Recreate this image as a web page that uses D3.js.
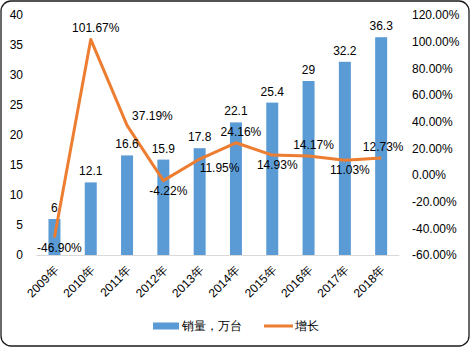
<!DOCTYPE html>
<html><head><meta charset="utf-8">
<script src="https://cdn.jsdelivr.net/npm/d3@7/dist/d3.min.js"></script>
<style>
html,body{margin:0;padding:0;background:#fff;}
text{font-family:"Liberation Sans",Arial,sans-serif;}
</style></head>
<body><svg id="c" width="470" height="347"></svg>
<script>
const years = ["2009年","2010年","2011年","2012年","2013年","2014年","2015年","2016年","2017年","2018年"];
const sales = [6, 12.1, 16.6, 15.9, 17.8, 22.1, 25.4, 29, 32.2, 36.3];
const growth = [-46.90, 101.67, 37.19, -4.22, 11.95, 24.16, 14.93, 14.17, 11.03, 12.73];
const leftTicks = [0,5,10,15,20,25,30,35,40];
const rightTicks = [-60,-40,-20,0,20,40,60,80,100,120];
const growthLabelPlace = ["b","a","r","b","rb","a","b","a","b","a2"];
const seriesNames = ["销量，万台","增长"];

const svg = d3.select("#c");
const blue = "#5B9BD5", orange = "#ED7D31";
svg.append("rect").attr("x",1).attr("y",1).attr("width",468).attr("height",345)
  .attr("rx",10).attr("fill","#fff").attr("stroke","#1a1a1a").attr("stroke-width",1.3);

const x = d3.scaleBand().domain(years).range([36.3,399.3]).paddingInner(0.67).paddingOuter(0.335);
const yL = d3.scaleLinear().domain([0,40]).range([255,15]);
const yR = d3.scaleLinear().domain([-60,120]).range([255,15]);
const cx = d => x(d) + x.bandwidth()/2;

// bars
svg.append("g").selectAll("rect").data(years).join("rect")
  .attr("x",(d)=>x(d)).attr("width",x.bandwidth())
  .attr("y",(d,i)=>yL(sales[i])).attr("height",(d,i)=>yL(0)-yL(sales[i]))
  .attr("fill",blue);

// axis baseline
svg.append("line").attr("x1",36.3).attr("x2",399.3).attr("y1",255.5).attr("y2",255.5)
  .attr("stroke","#d9d9d9").attr("stroke-width",1);

// left axis
const la = svg.append("g").attr("transform","translate(36,0)")
  .call(d3.axisLeft(yL).tickValues(leftTicks).tickSize(0).tickPadding(13).tickFormat(d3.format("d")));
la.select(".domain").remove();
la.selectAll("text").attr("font-size",12).attr("fill","#000").attr("font-family","Liberation Sans, Arial");

// right axis
const ra = svg.append("g").attr("transform","translate(400,0)")
  .call(d3.axisRight(yR).tickValues(rightTicks).tickSize(0).tickPadding(12).tickFormat(d=>d.toFixed(2)+"%"));
ra.select(".domain").remove();
ra.selectAll("text").attr("font-size",12).attr("fill","#000").attr("font-family","Liberation Sans, Arial");

// x axis labels
svg.append("g").selectAll("text").data(years).join("text")
  .attr("transform",d=>`translate(${cx(d)+2},${268}) rotate(-45)`)
  .attr("text-anchor","end").attr("dominant-baseline","central")
  .attr("font-size",12).attr("fill","#000").text(d=>d);

// line
const line = d3.line().x((d,i)=>cx(years[i])).y(d=>yR(d));
svg.append("path").datum(growth).attr("d",line).attr("fill","none")
  .attr("stroke",orange).attr("stroke-width",3).attr("stroke-linejoin","round");

// bar labels
svg.append("g").selectAll("text").data(years).join("text")
  .attr("x",d=>cx(d)).attr("y",(d,i)=>yL(sales[i])-11)
  .attr("text-anchor","middle").attr("dominant-baseline","central")
  .attr("font-size",12).attr("fill","#000").text((d,i)=>sales[i]);

// growth labels
const off = {a:[5,-11,"middle"], a2:[2,-11.5,"middle"], b:[5,10,"middle"], r:[5,-9,"start"], rb:[0,9,"start"]};
svg.append("g").selectAll("text").data(years).join("text")
  .attr("x",(d,i)=>cx(d)+off[growthLabelPlace[i]][0])
  .attr("y",(d,i)=>yR(growth[i])+off[growthLabelPlace[i]][1])
  .attr("text-anchor",(d,i)=>off[growthLabelPlace[i]][2]).attr("dominant-baseline","central")
  .attr("font-size",12).attr("fill","#000").text((d,i)=>growth[i].toFixed(2)+"%");

// legend
const lg = svg.append("g");
lg.append("rect").attr("x",153).attr("y",322.5).attr("width",26).attr("height",7).attr("fill",blue);
lg.append("text").attr("x",182).attr("y",326).attr("dominant-baseline","central")
  .attr("font-size",12).attr("fill","#000").text(seriesNames[0]);
lg.append("line").attr("x1",264).attr("x2",293).attr("y1",326).attr("y2",326)
  .attr("stroke",orange).attr("stroke-width",3);
lg.append("text").attr("x",295).attr("y",326).attr("dominant-baseline","central")
  .attr("font-size",12).attr("fill","#000").text(seriesNames[1]);
</script></body></html>
